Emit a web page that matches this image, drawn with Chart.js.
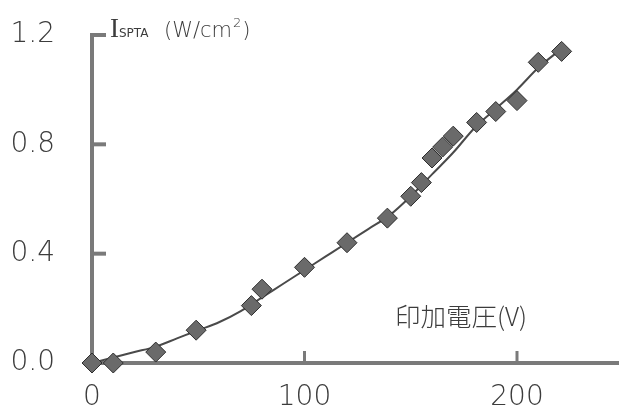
<!DOCTYPE html>
<html>
<head>
<meta charset="utf-8">
<script src="https://cdn.jsdelivr.net/npm/chart.js@4.4.1/dist/chart.umd.min.js"></script>
<style>
  html, body { margin: 0; padding: 0; background: #ffffff; }
  #wrap { width: 619px; height: 414px; position: relative; }
</style>
</head>
<body>
<div id="wrap"><canvas id="chart" width="619" height="414"></canvas></div>
<script>
// Measured spatial-peak temporal-average intensity versus applied voltage
const voltage   = [0, 10, 30, 49, 75, 80, 100, 120, 139, 150, 155, 160, 165, 170, 181, 190, 200, 210, 221];
const intensity = [0, 0, 0.04, 0.12, 0.21, 0.27, 0.35, 0.44, 0.53, 0.61, 0.66, 0.75, 0.79, 0.83, 0.88, 0.92, 0.96, 1.10, 1.14];

// Smooth trend curve through the measurements
const fitVoltage   = [0, 10, 20, 30, 40, 50, 60, 70, 80, 90, 100, 110, 120, 130, 140, 150, 160, 170, 180, 190, 200, 210, 221];
const fitIntensity = [0, 0.02, 0.04, 0.06, 0.09, 0.12, 0.15, 0.19, 0.24, 0.29, 0.34, 0.39, 0.44, 0.49, 0.54, 0.61, 0.69, 0.77, 0.86, 0.93, 1.00, 1.08, 1.15];

const xTicks = [0, 100, 200];
const xTickLabels = ['0', '100', '200'];
const yTicks = [0, 0.4, 0.8, 1.2];
const yTickLabels = ['0.0', '0.4', '0.8', '1.2'];
const xTitle = '印加電圧(V)';

const AXIS_COLOR = '#7a7a7a';
const TEXT_COLOR = '#3c3c3c';
const TICK_FONT = { family: '"DejaVu Sans"', size: 28, weight: 200 };

// Inward tick stubs plus the two axis captions
const axisDecor = {
  id: 'axisDecor',
  afterDraw(chart) {
    const { ctx, scales: { x, y } } = chart;
    const x0 = x.getPixelForValue(0);
    const y0 = y.getPixelForValue(0);
    ctx.save();
    ctx.strokeStyle = AXIS_COLOR;
    ctx.lineWidth = 4;
    ctx.lineCap = 'butt';
    yTicks.forEach(v => {
      if (v === 0) return;
      const py = y.getPixelForValue(v);
      ctx.beginPath();
      ctx.moveTo(x0 - 2, py);
      ctx.lineTo(x0 + 14, py);
      ctx.stroke();
    });
    ctx.lineWidth = 3;
    xTicks.forEach(v => {
      if (v === 0) return;
      const px = x.getPixelForValue(v);
      ctx.beginPath();
      ctx.moveTo(px, y0);
      ctx.lineTo(px, y0 - 12);
      ctx.stroke();
    });

    // y caption: I_SPTA (W/cm²)
    ctx.fillStyle = TEXT_COLOR;
    ctx.textAlign = 'left';
    ctx.textBaseline = 'alphabetic';
    const base = 37;
    ctx.font = '27px "Liberation Serif"';
    ctx.fillText('I', 110, base);
    ctx.font = '12px "DejaVu Sans"';
    ctx.fillText('SPTA', 119, base);
    ctx.font = '300 21px "DejaVu Sans"';
    ctx.fillText('(W/cm', 164, base);
    const w = ctx.measureText('(W/cm').width;
    ctx.font = '300 13px "DejaVu Sans"';
    ctx.fillText('2', 164 + w + 1, base - 10);
    const w2 = ctx.measureText('2').width;
    ctx.font = '300 21px "DejaVu Sans"';
    ctx.fillText(')', 164 + w + w2 + 2, base);

    // x caption
    ctx.font = '300 25.5px "Noto Sans CJK JP"';
    ctx.textBaseline = 'middle';
    ctx.fillText(xTitle, 395, 316);
    ctx.restore();
  }
};

new Chart(document.getElementById('chart'), {
  type: 'scatter',
  data: {
    datasets: [
      {
        label: 'measured',
        data: voltage.map((v, i) => ({ x: v, y: intensity[i] })),
        pointStyle: 'rectRot',
        pointRadius: 10,
        pointBackgroundColor: '#6a6a6a',
        pointBorderColor: '#2e2e2e',
        pointBorderWidth: 1,
        showLine: false,
        clip: false
      },
      {
        label: 'trend',
        type: 'line',
        data: fitVoltage.map((v, i) => ({ x: v, y: fitIntensity[i] })),
        borderColor: '#4a4a4a',
        borderWidth: 2,
        pointRadius: 0,
        cubicInterpolationMode: 'monotone',
        fill: false
      }
    ]
  },
  options: {
    responsive: false,
    animation: false,
    devicePixelRatio: 1,
    layout: { autoPadding: false, padding: { top: 35, left: 0, right: 0, bottom: 0 } },
    plugins: { legend: { display: false }, tooltip: { enabled: false } },
    scales: {
      x: {
        type: 'linear',
        min: 0,
        max: 248,
        afterBuildTicks: s => { s.ticks = xTicks.map(v => ({ value: v })); },
        afterFit: s => { s.height = 51; s.paddingLeft = 0; s.paddingRight = 0; },
        grid: { display: false, drawTicks: false },
        border: { display: true, color: AXIS_COLOR, width: 4 },
        ticks: {
          font: TICK_FONT,
          color: TEXT_COLOR,
          padding: 18,
          maxRotation: 0,
          autoSkip: false,
          callback: (v, i) => xTickLabels[i]
        }
      },
      y: {
        type: 'linear',
        min: 0,
        max: 1.2,
        afterBuildTicks: s => { s.ticks = yTicks.map(v => ({ value: v })); },
        afterFit: s => { s.width = 92; s.paddingTop = 0; s.paddingBottom = 0; },
        grid: { display: false, drawTicks: false },
        border: { display: true, color: AXIS_COLOR, width: 4 },
        ticks: {
          font: TICK_FONT,
          color: TEXT_COLOR,
          padding: 37,
          autoSkip: false,
          callback: (v, i) => yTickLabels[i]
        }
      }
    }
  },
  plugins: [axisDecor]
});
</script>
</body>
</html>
